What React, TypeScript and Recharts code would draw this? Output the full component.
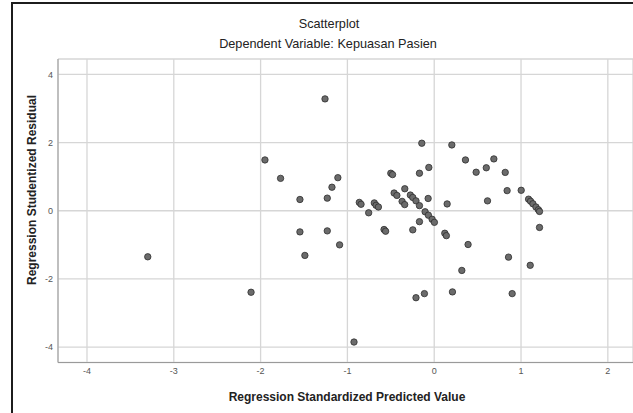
import { ScatterChart, Scatter, XAxis, YAxis, CartesianGrid } from 'recharts'

// standardized predicted value (x) and studentized residual (y)
const predicted = [
  -3.30, -2.11, -1.95, -1.77, -1.547, -1.547, -1.49, -1.258, -1.232, -1.232,
  -1.178, -1.11, -1.09, -0.924, -0.863, -0.843, -0.755, -0.69, -0.67, -0.643,
  -0.578, -0.56, -0.50, -0.48, -0.462, -0.43, -0.37, -0.34, -0.339, -0.275,
  -0.247, -0.247, -0.21, -0.21, -0.17, -0.17, -0.17, -0.143, -0.113, -0.105,
  -0.07, -0.067, -0.062, -0.024, 0.002, 0.122, 0.14, 0.149, 0.203, 0.21,
  0.318, 0.36, 0.39, 0.483, 0.60, 0.614, 0.687, 0.818, 0.84, 0.856,
  0.898, 1.002, 1.087, 1.11, 1.137, 1.106, 1.172, 1.20, 1.213, 1.213,
]
const residual = [
  -1.35, -2.39, 1.49, 0.95, 0.33, -0.62, -1.31, 3.28, 0.37, -0.59,
  0.69, 0.97, -1.0, -3.85, 0.245, 0.19, -0.06, 0.23, 0.16, 0.11,
  -0.55, -0.60, 1.10, 1.06, 0.52, 0.45, 0.275, 0.18, 0.645, 0.46,
  0.39, -0.56, 0.29, -2.55, 1.10, 0.15, -0.32, 1.98, -2.43, -0.03,
  0.36, -0.13, 1.27, -0.25, -0.34, -0.66, -0.73, 0.20, 1.93, -2.38,
  -1.75, 1.49, -0.99, 1.13, 1.26, 0.29, 1.52, 1.125, 0.59, -1.36,
  -2.43, 0.60, 0.34, 0.28, 0.205, -1.60, 0.11, 0.03, -0.02, -0.49,
]
const xTicks = [-4, -3, -2, -1, 0, 1, 2]
const yTicks = [-4, -2, 0, 2, 4]

const points = predicted.map((x, i) => ({ x, y: residual[i] }))

const FONT = '"Liberation Sans", Arial, sans-serif'
const GRID = '#d6d6d6'
const AXIS = '#9a9a9a'
const TICK = { fontSize: 9, fill: '#555', fontFamily: FONT }

const Dot = (props: any) => (
  <circle cx={props.cx} cy={props.cy} r={3.2} fill="#6b6b6b" stroke="#2e2e2e" strokeWidth={0.8} />
)

export default function App() {
  return (
    <div style={{ position: 'absolute', left: 0, top: 0, width: 633, height: 413, overflow: 'hidden', background: '#fff' }}>
      <div style={{ position: 'absolute', left: 11, top: 2, width: 700, height: 500, border: '2px solid #1c1c1c' }} />
      <div style={{ position: 'absolute', left: 0, top: 0 }}>
        <ScatterChart width={633} height={413} margin={{ top: 59, right: 0, bottom: 0, left: 0 }}>
          <CartesianGrid stroke={GRID} strokeWidth={1.3} />
          <XAxis
            type="number"
            dataKey="x"
            domain={[-4.334, 2.29]}
            ticks={xTicks}
            allowDataOverflow
            height={50.5}
            tick={TICK}
            tickSize={0}
            tickMargin={5}
            axisLine={{ stroke: AXIS }}
          />
          <YAxis
            type="number"
            dataKey="y"
            domain={[-4.45, 4.45]}
            ticks={yTicks}
            allowDataOverflow
            width={58}
            tick={TICK}
            tickSize={0}
            tickMargin={5}
            axisLine={{ stroke: AXIS }}
          />
          <Scatter data={points} shape={Dot} isAnimationActive={false} />
        </ScatterChart>
      </div>
      <svg width={633} height={413} style={{ position: 'absolute', left: 0, top: 0, pointerEvents: 'none' }}>
        <text x={329} y={27.5} textAnchor="middle" fontFamily={FONT} fontSize={12.7} fill="#222">Scatterplot</text>
        <text x={328} y={48} textAnchor="middle" fontFamily={FONT} fontSize={12.7} fill="#222">Dependent Variable: Kepuasan Pasien</text>
        <text x={347} y={401} textAnchor="middle" fontFamily={FONT} fontSize={12} fontWeight="bold" fill="#222">Regression Standardized Predicted Value</text>
        <text x={36} y={190} textAnchor="middle" fontFamily={FONT} fontSize={12} fontWeight="bold" fill="#222" transform="rotate(-90 36 190)">Regression Studentized Residual</text>
      </svg>
    </div>
  )
}
